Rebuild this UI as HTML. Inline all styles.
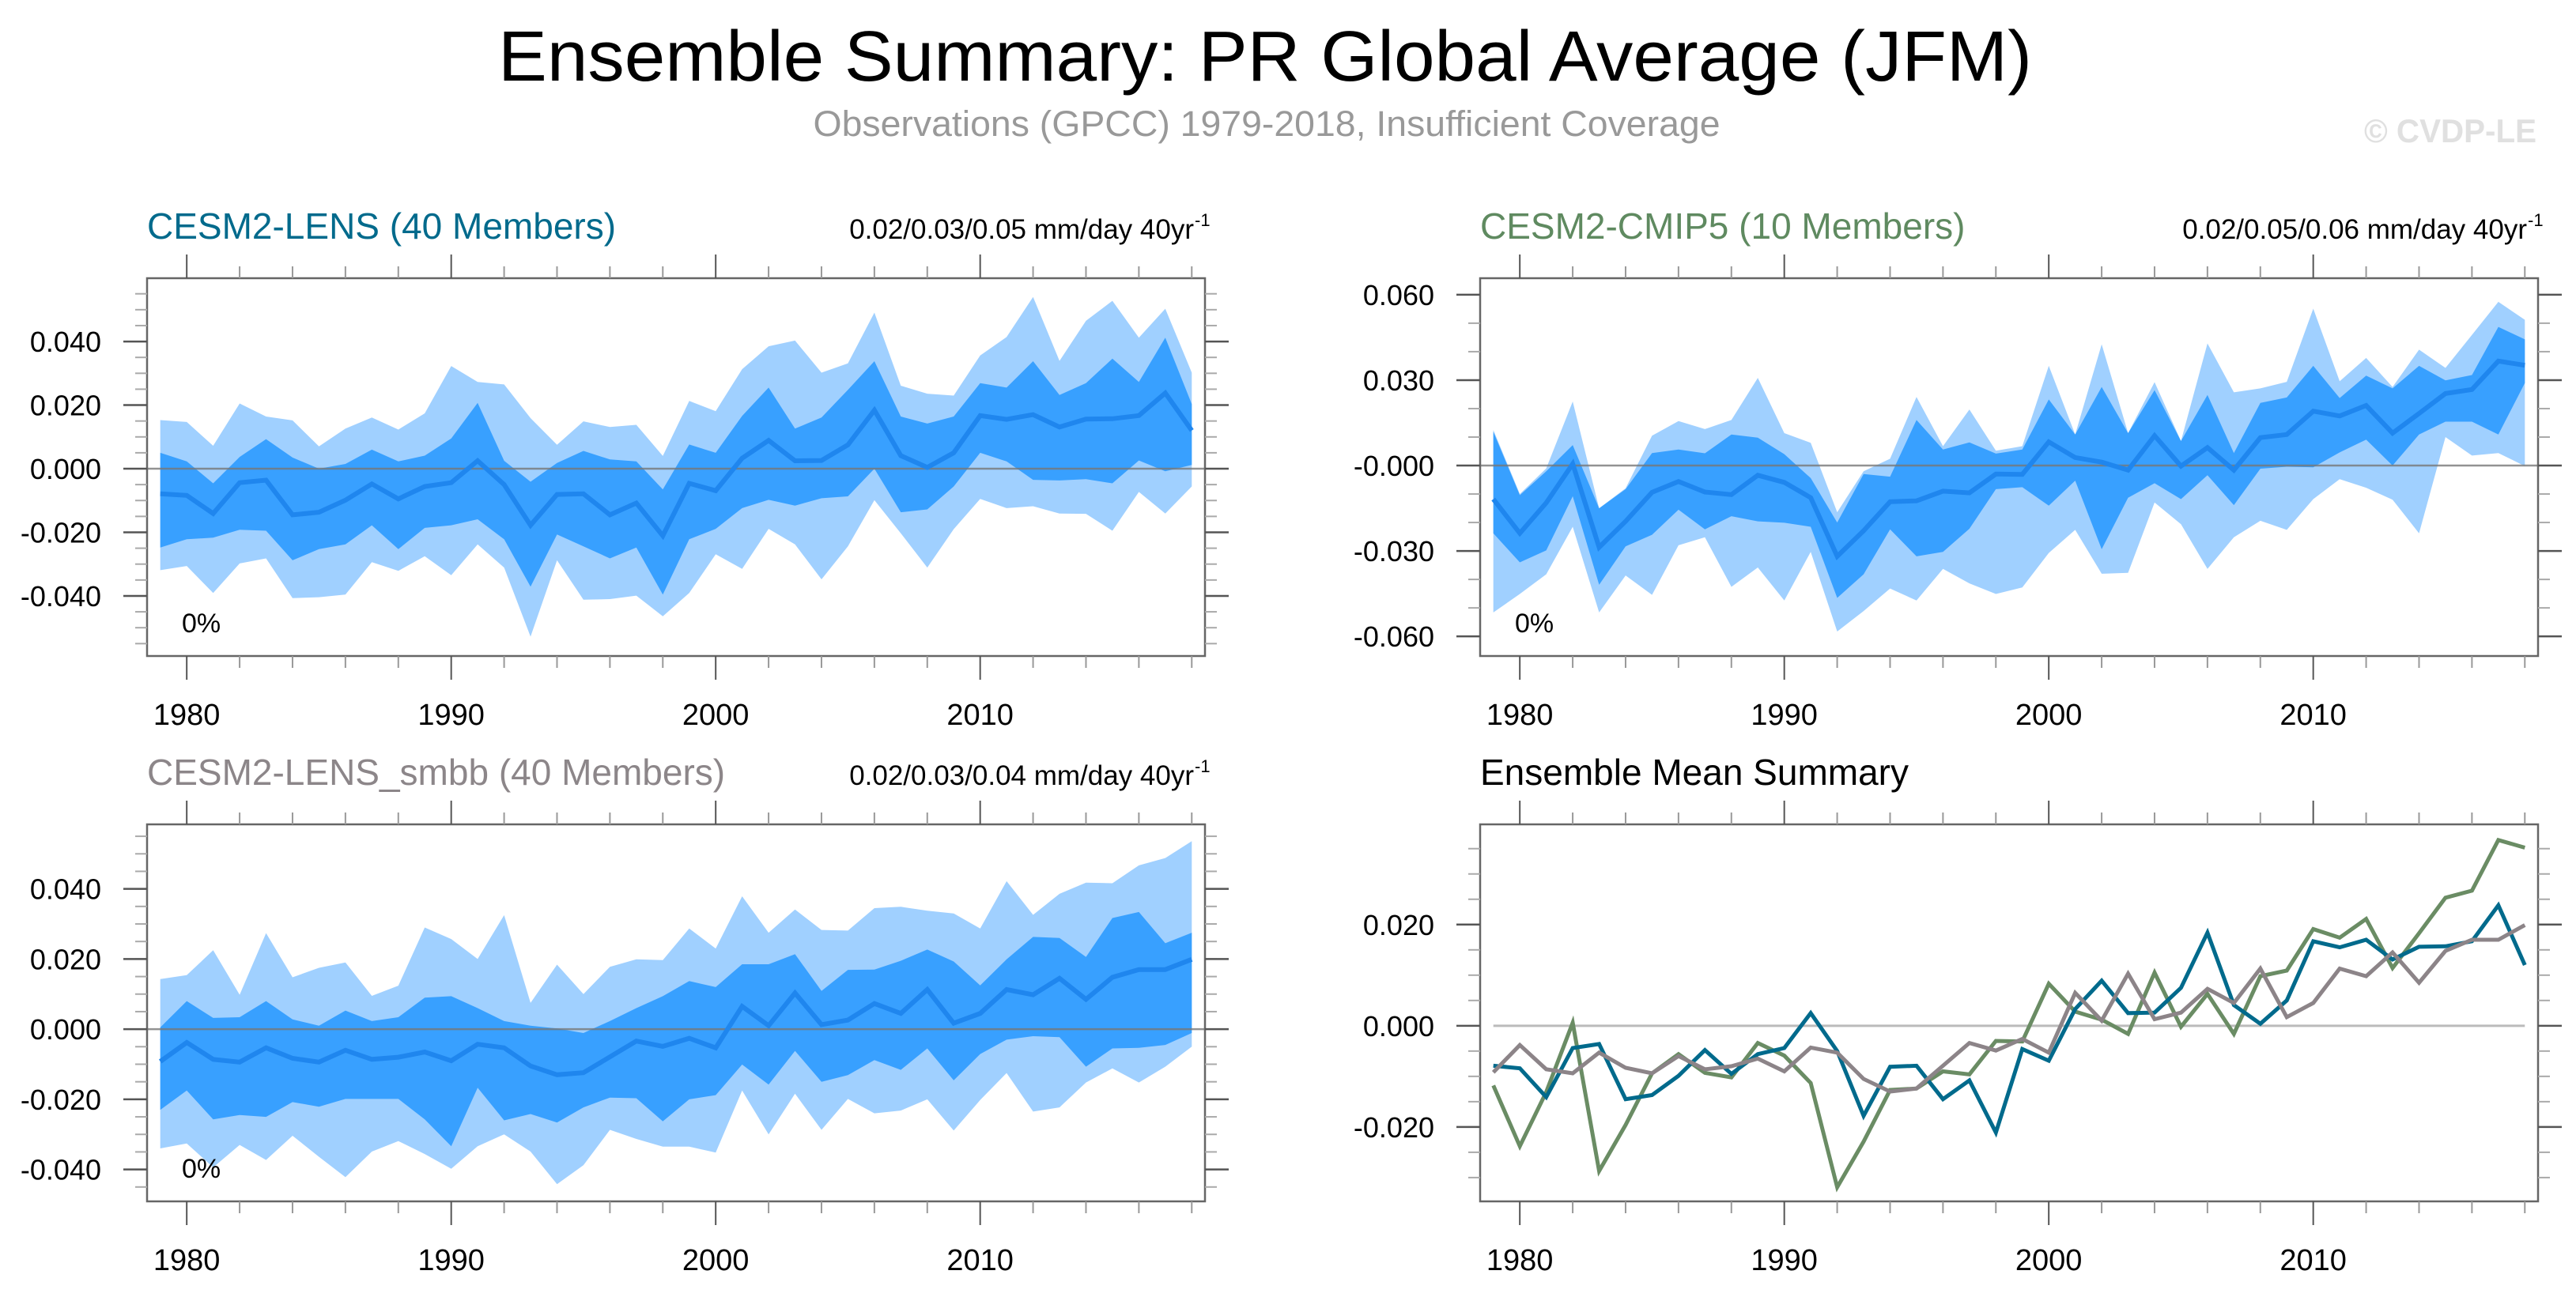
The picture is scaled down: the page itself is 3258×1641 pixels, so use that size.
<!DOCTYPE html>
<html><head><meta charset="utf-8">
<style>
html,body{margin:0;padding:0;background:#fff;}
svg{display:block;font-family:"Liberation Sans",Arial,sans-serif;}
</style></head>
<body>
<svg id="chart" width="3258" height="1641" viewBox="0 0 3258 1641" xmlns="http://www.w3.org/2000/svg">
<rect width="3258" height="1641" fill="#fff"/>
<text x="1600" y="102" font-size="90" text-anchor="middle" fill="#000" textLength="1940" lengthAdjust="spacingAndGlyphs">Ensemble Summary: PR Global Average (JFM)</text>
<text x="1602" y="172" font-size="45" text-anchor="middle" fill="#999" textLength="1147" lengthAdjust="spacingAndGlyphs">Observations (GPCC) 1979-2018, Insufficient Coverage</text>
<text x="2990" y="180" font-size="42" font-weight="bold" fill="#e0e0e0" textLength="218" lengthAdjust="spacingAndGlyphs">© CVDP-LE</text>
<g id="plots"></g>
</svg>
<script>
// ---------- data ----------
const years = [];
for (let y = 1979; y <= 2018; y++) years.push(y);

const lensMean = [-0.0079,-0.0084,-0.0141,-0.0044,-0.0036,-0.0145,-0.0137,-0.0099,-0.0048,-0.0095,-0.0056,-0.0044,0.0025,-0.0050,-0.0178,-0.0081,-0.0079,-0.0145,-0.0108,-0.0211,-0.0046,-0.0069,0.0033,0.0089,0.0025,0.0026,0.0075,0.0184,0.0041,0.0004,0.0050,0.0167,0.0155,0.0170,0.0131,0.0156,0.0157,0.0167,0.0238,0.0120];
const lensInnerHi = [0.0050,0.0023,-0.0046,0.0037,0.0093,0.0035,0.0000,0.0015,0.0060,0.0023,0.0041,0.0095,0.0207,0.0025,-0.0041,0.0018,0.0056,0.0029,0.0023,-0.0065,0.0076,0.0050,0.0166,0.0255,0.0126,0.0161,0.0248,0.0338,0.0164,0.0142,0.0164,0.0269,0.0255,0.0338,0.0232,0.0269,0.0346,0.0273,0.0412,0.0203];
const lensInnerLo = [-0.0248,-0.0222,-0.0217,-0.0192,-0.0195,-0.0288,-0.0253,-0.0238,-0.0178,-0.0253,-0.0186,-0.0178,-0.0159,-0.0222,-0.0371,-0.0207,-0.0244,-0.0282,-0.0248,-0.0396,-0.0222,-0.0189,-0.0124,-0.0098,-0.0116,-0.0093,-0.0087,0.0000,-0.0137,-0.0128,-0.0056,0.0050,0.0023,-0.0035,-0.0037,-0.0033,-0.0046,0.0026,-0.0008,0.0012];
const lensOuterHi = [0.0153,0.0147,0.0072,0.0205,0.0164,0.0152,0.0070,0.0126,0.0161,0.0123,0.0174,0.0323,0.0273,0.0265,0.0159,0.0075,0.0149,0.0131,0.0138,0.0040,0.0213,0.0181,0.0313,0.0385,0.0403,0.0302,0.0331,0.0491,0.0261,0.0236,0.0230,0.0356,0.0414,0.0540,0.0339,0.0465,0.0528,0.0412,0.0503,0.0302];
const lensOuterLo = [-0.0319,-0.0306,-0.0391,-0.0298,-0.0282,-0.0407,-0.0404,-0.0396,-0.0294,-0.0321,-0.0275,-0.0335,-0.0238,-0.0311,-0.0528,-0.0288,-0.0412,-0.0410,-0.0399,-0.0464,-0.0391,-0.0269,-0.0315,-0.0189,-0.0238,-0.0348,-0.0244,-0.0099,-0.0203,-0.0311,-0.0190,-0.0095,-0.0124,-0.0118,-0.0141,-0.0142,-0.0195,-0.0073,-0.0141,-0.0056];

const cmipMean = [-0.0118,-0.0238,-0.0131,0.0006,-0.0287,-0.0196,-0.0094,-0.0056,-0.0093,-0.0102,-0.0034,-0.0059,-0.0113,-0.0319,-0.0229,-0.0127,-0.0124,-0.0090,-0.0096,-0.0030,-0.0031,0.0083,0.0028,0.0012,-0.0016,0.0105,-0.0002,0.0063,-0.0016,0.0098,0.0109,0.0191,0.0174,0.0211,0.0114,0.0183,0.0253,0.0267,0.0367,0.0352];
const cmipInnerHi = [0.0119,-0.0104,-0.0020,0.0072,-0.0150,-0.0083,0.0044,0.0056,0.0043,0.0109,0.0098,0.0040,-0.0044,-0.0200,-0.0030,-0.0039,0.0160,0.0056,0.0081,0.0042,0.0056,0.0232,0.0109,0.0276,0.0114,0.0265,0.0086,0.0248,0.0044,0.0220,0.0239,0.0350,0.0237,0.0316,0.0271,0.0350,0.0299,0.0318,0.0487,0.0443];
const cmipInnerLo = [-0.0238,-0.0340,-0.0298,-0.0108,-0.0419,-0.0284,-0.0243,-0.0155,-0.0224,-0.0178,-0.0196,-0.0201,-0.0215,-0.0465,-0.0382,-0.0224,-0.0319,-0.0303,-0.0222,-0.0083,-0.0076,-0.0141,-0.0053,-0.0294,-0.0113,-0.0062,-0.0118,-0.0034,-0.0139,-0.0011,-0.0004,-0.0006,0.0046,0.0091,0.0000,0.0109,0.0154,0.0154,0.0109,0.0290];
const cmipOuterHi = [0.0125,-0.0100,-0.0010,0.0225,-0.0150,-0.0080,0.0105,0.0156,0.0128,0.0160,0.0308,0.0114,0.0080,-0.0164,-0.0020,0.0024,0.0241,0.0068,0.0197,0.0052,0.0068,0.0350,0.0109,0.0426,0.0114,0.0293,0.0086,0.0429,0.0257,0.0271,0.0294,0.0551,0.0296,0.0378,0.0276,0.0407,0.0343,0.0459,0.0575,0.0512];
const cmipOuterLo = [-0.0516,-0.0451,-0.0382,-0.0215,-0.0516,-0.0386,-0.0454,-0.0280,-0.0252,-0.0426,-0.0358,-0.0474,-0.0303,-0.0583,-0.0511,-0.0432,-0.0474,-0.0363,-0.0414,-0.0451,-0.0428,-0.0307,-0.0226,-0.0380,-0.0377,-0.0130,-0.0206,-0.0363,-0.0252,-0.0194,-0.0226,-0.0118,-0.0048,-0.0078,-0.0120,-0.0238,0.0100,0.0035,0.0044,-0.0002];

const smbbMean = [-0.0092,-0.0038,-0.0086,-0.0094,-0.0053,-0.0083,-0.0094,-0.0060,-0.0086,-0.0080,-0.0065,-0.0090,-0.0043,-0.0053,-0.0105,-0.0130,-0.0124,-0.0079,-0.0034,-0.0049,-0.0026,-0.0053,0.0065,0.0010,0.0103,0.0013,0.0026,0.0073,0.0045,0.0113,0.0017,0.0045,0.0113,0.0098,0.0145,0.0085,0.0148,0.0170,0.0170,0.0199];
const smbbInnerHi = [0.0005,0.0080,0.0032,0.0034,0.0080,0.0028,0.0010,0.0053,0.0023,0.0034,0.0090,0.0094,0.0060,0.0023,0.0010,0.0002,-0.0011,0.0023,0.0060,0.0094,0.0137,0.0120,0.0185,0.0185,0.0214,0.0109,0.0169,0.0170,0.0195,0.0227,0.0193,0.0125,0.0199,0.0263,0.0260,0.0206,0.0317,0.0334,0.0245,0.0275];
const smbbInnerLo = [-0.0230,-0.0175,-0.0257,-0.0245,-0.0250,-0.0208,-0.0221,-0.0199,-0.0199,-0.0199,-0.0257,-0.0334,-0.0167,-0.0260,-0.0242,-0.0266,-0.0223,-0.0195,-0.0197,-0.0263,-0.0200,-0.0188,-0.0101,-0.0158,-0.0062,-0.0150,-0.0131,-0.0088,-0.0116,-0.0055,-0.0146,-0.0071,-0.0030,-0.0020,-0.0023,-0.0107,-0.0055,-0.0053,-0.0045,-0.0011];
const smbbOuterHi = [0.0143,0.0154,0.0225,0.0098,0.0274,0.0148,0.0175,0.0190,0.0095,0.0124,0.0290,0.0257,0.0200,0.0325,0.0075,0.0184,0.0100,0.0178,0.0199,0.0197,0.0287,0.0230,0.0379,0.0275,0.0341,0.0283,0.0281,0.0345,0.0349,0.0338,0.0330,0.0287,0.0422,0.0326,0.0386,0.0418,0.0416,0.0467,0.0488,0.0536];
const smbbOuterLo = [-0.0340,-0.0326,-0.0394,-0.0330,-0.0373,-0.0304,-0.0364,-0.0422,-0.0349,-0.0319,-0.0356,-0.0398,-0.0334,-0.0300,-0.0349,-0.0442,-0.0388,-0.0287,-0.0313,-0.0335,-0.0335,-0.0352,-0.0175,-0.0300,-0.0184,-0.0287,-0.0199,-0.0240,-0.0232,-0.0200,-0.0289,-0.0202,-0.0125,-0.0235,-0.0223,-0.0152,-0.0112,-0.0152,-0.0107,-0.0050];

const xTickLabels = [1980, 1990, 2000, 2010];
const yTicksA = [0.04, 0.02, 0, -0.02, -0.04];
const yLabelsA = ["0.040","0.020","0.000","-0.020","-0.040"];
const yTicksB = [0.06, 0.03, 0, -0.03, -0.06];
const yLabelsB = ["0.060","0.030","-0.000","-0.030","-0.060"];
const yTicksD = [0.02, 0, -0.02];
const yLabelsD = ["0.020","0.000","-0.020"];

// ---------- drawing ----------
const NS = "http://www.w3.org/2000/svg";
const root = document.getElementById("plots");
function mk(tag, attrs, parent) {
  const e = document.createElementNS(NS, tag);
  for (const k in attrs) e.setAttribute(k, attrs[k]);
  (parent || root).appendChild(e);
  return e;
}

const panels = [
  {id:"lens", x0:186, x1:1524, y0:352, y1:830, vmax:0.0599, vmin:-0.0589, minor:0.005, ticks:yTicksA, labels:yLabelsA,
   title:"CESM2-LENS (40 Members)", tcol:"#006a8c", trend:"0.02/0.03/0.05 mm/day 40yr", mean:lensMean, ih:lensInnerHi, il:lensInnerLo, oh:lensOuterHi, ol:lensOuterLo},
  {id:"cmip5", x0:1872, x1:3210, y0:352, y1:830, vmax:0.0658, vmin:-0.0669, minor:0.01, ticks:yTicksB, labels:yLabelsB,
   title:"CESM2-CMIP5 (10 Members)", tcol:"#5f8a60", trend:"0.02/0.05/0.06 mm/day 40yr", mean:cmipMean, ih:cmipInnerHi, il:cmipInnerLo, oh:cmipOuterHi, ol:cmipOuterLo},
  {id:"smbb", x0:186, x1:1524, y0:1043, y1:1520, vmax:0.0584, vmin:-0.0491, minor:0.005, ticks:yTicksA, labels:yLabelsA,
   title:"CESM2-LENS_smbb (40 Members)", tcol:"#8c8689", trend:"0.02/0.03/0.04 mm/day 40yr", mean:smbbMean, ih:smbbInnerHi, il:smbbInnerLo, oh:smbbOuterHi, ol:smbbOuterLo},
  {id:"summary", x0:1872, x1:3210, y0:1043, y1:1520, vmax:0.0398, vmin:-0.0347, minor:0.005, ticks:yTicksD, labels:yLabelsD,
   title:"Ensemble Mean Summary", tcol:"#000", trend:null}
];

panels.forEach(p => {
  const g = mk("g", {});
  
  
  const xs = yr => p.x0 + (yr - 1978.5) / 40 * (p.x1 - p.x0);
  const ys = v => p.y0 + (p.vmax - v) / (p.vmax - p.vmin) * (p.y1 - p.y0);

  // title
  const t = mk("text", {x:p.x0, y:p.y0 - 50, "font-size":46, fill:p.tcol}, g);
  t.textContent = p.title;
  
  
  if (p.trend) {
    const tr = mk("text", {x:p.x1 - 14, y:p.y0 - 50, "font-size":35, fill:"#000", "text-anchor":"end"}, g);
    tr.textContent = p.trend;
    
    
    const sup = mk("text", {x:p.x1 - 13, y:p.y0 - 66, "font-size":22, fill:"#000"}, g);
    sup.textContent = "-1";
    
    
  }

  function band(hi, lo, color, name) {
    let d = "";
    hi.forEach((v, i) => { d += (i ? "L" : "M") + xs(years[i]).toFixed(1) + "," + ys(v).toFixed(1); });
    for (let i = lo.length - 1; i >= 0; i--) d += "L" + xs(years[i]).toFixed(1) + "," + ys(lo[i]).toFixed(1);
    const e = mk("path", {d: d + "Z", fill: color}, g);
    
    
  }
  function line(vals, color, w, name) {
    const pts = vals.map((v, i) => xs(years[i]).toFixed(1) + "," + ys(v).toFixed(1)).join(" ");
    const e = mk("polyline", {points: pts, fill: "none", stroke: color, "stroke-width": w, "stroke-linejoin": "miter"}, g);
    
    
  }

  if (p.mean) {
    band(p.oh, p.ol, "#a0d0ff", "outer-spread-band");
    band(p.ih, p.il, "#38a0ff", "inner-spread-band");
    const z = mk("line", {x1:p.x0, x2:p.x1, y1:ys(0), y2:ys(0), stroke:"#777", "stroke-width":2.5, "stroke-opacity":0.8}, g);
    
    
    line(p.mean, "#1f86ee", 6, "ensemble-mean-line");
    const pc = mk("text", {x:p.x0 + 44, y:p.y1 - 30, "font-size":34, fill:"#000"}, g);
    pc.textContent = "0%";
    
    
  } else {
    const z = mk("line", {x1:xs(1979), x2:xs(2018), y1:ys(0), y2:ys(0), stroke:"#bbb", "stroke-width":3}, g);
    
    
    line(cmipMean, "#6a8c64", 5, "cesm2-cmip5-mean-line");
    line(lensMean, "#006a8c", 5, "cesm2-lens-mean-line");
    line(smbbMean, "#8c8488", 5, "cesm2-lens-smbb-mean-line");
  }

  // frame
  const fr = mk("rect", {x:p.x0, y:p.y0, width:p.x1 - p.x0, height:p.y1 - p.y0, fill:"none", stroke:"#666", "stroke-width":2.5}, g);
  
  

  // x ticks (top & bottom, outward)
  for (let yr = 1980; yr <= 2018; yr += 2) {
    const major = yr % 10 === 0;
    const L = major ? 30 : 15;
    const x = xs(yr);
    mk("line", {x1:x, x2:x, y1:p.y0, y2:p.y0 - L, stroke:major ? "#555" : "#999", "stroke-width":2}, g);
    mk("line", {x1:x, x2:x, y1:p.y1, y2:p.y1 + L, stroke:major ? "#555" : "#999", "stroke-width":2}, g);
  }
  xTickLabels.forEach(yr => {
    const e = mk("text", {x:xs(yr), y:p.y1 + 87, "font-size":38, "text-anchor":"middle", fill:"#000"}, g);
    e.textContent = yr;
    
    
  });

  // y minor ticks
  const n0 = Math.ceil(p.vmin / p.minor - 1e-6), n1 = Math.floor(p.vmax / p.minor + 1e-6);
  for (let n = n0; n <= n1; n++) {
    const y = ys(n * p.minor);
    mk("line", {x1:p.x0, x2:p.x0 - 15, y1:y, y2:y, stroke:"#aaa", "stroke-width":2}, g);
    mk("line", {x1:p.x1, x2:p.x1 + 15, y1:y, y2:y, stroke:"#aaa", "stroke-width":2}, g);
  }
  p.ticks.forEach((v, i) => {
    const y = ys(v);
    mk("line", {x1:p.x0, x2:p.x0 - 30, y1:y, y2:y, stroke:"#555", "stroke-width":2.5}, g);
    mk("line", {x1:p.x1, x2:p.x1 + 30, y1:y, y2:y, stroke:"#555", "stroke-width":2.5}, g);
    const e = mk("text", {x:p.x0 - 58, y:y + 13, "font-size":36, "text-anchor":"end", fill:"#000"}, g);
    e.textContent = p.labels[i];
    
    
  });
});
</script>
</body></html>
